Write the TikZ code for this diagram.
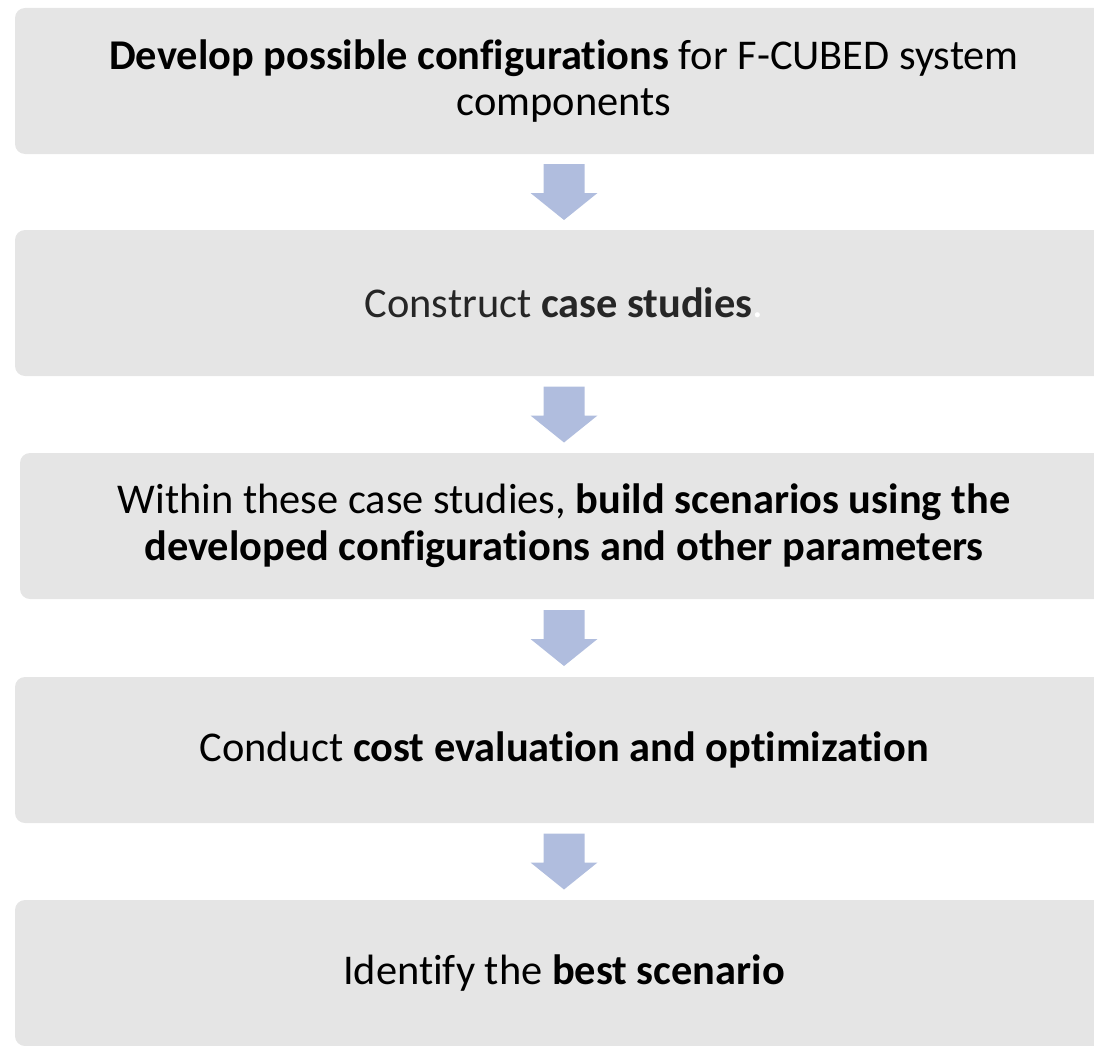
\documentclass[tikz,border=0pt]{standalone}
\usepackage{fontspec}
\setmainfont{Carlito}[Ligatures=NoCommon]
\usetikzlibrary{calc}

\definecolor{boxgrey}{RGB}{229,229,229}
\definecolor{arrowblue}{RGB}{176,189,222}
\definecolor{textgrey}{RGB}{38,38,38}

\tikzset{
  stepbox/.style={fill=boxgrey, rounded corners=7.5pt, minimum width=823.5pt,
    minimum height=109.5pt, inner sep=0pt, align=center,
    font=\fontsize{31.8}{35}\selectfont},
  flowarrow/.style={fill=arrowblue}
}

\begin{document}
\begin{tikzpicture}[x=0.75pt,y=-0.75pt]
\useasboundingbox (0,0) rectangle (1094,1045);
\clip (0,0) rectangle (1094,1045);

% the five steps
\node[stepbox] (b1) at (564,81) {\textbf{Develop possible configurations} for F-CUBED system\\components};
\node[stepbox, text=textgrey] (b2) at (564,303) {Construct \textbf{case studies}\textcolor{white}{.}};
\node[stepbox, minimum width=816pt] (b3) at (564,526) {Within these case studies, \textbf{build scenarios using the}\\\textbf{developed configurations and other parameters}};
\node[stepbox] (b4) at (564,750) {Conduct \textbf{cost evaluation and optimization}};
\node[stepbox] (b5) at (564,973) {Identify the \textbf{best scenario}};

% block arrows between the steps
\foreach \a/\b in {b1/b2,b2/b3,b3/b4,b4/b5}
  \fill[flowarrow] ($(\a.south)!0.5!(\b.north)$) ++(-20.5,-28) -- ++(41,0)
    -- ++(0,29) -- ++(13,0) -- ++(-33.5,27) -- ++(-33.5,-27) -- ++(13,0) -- cycle;
\end{tikzpicture}
\end{document}
